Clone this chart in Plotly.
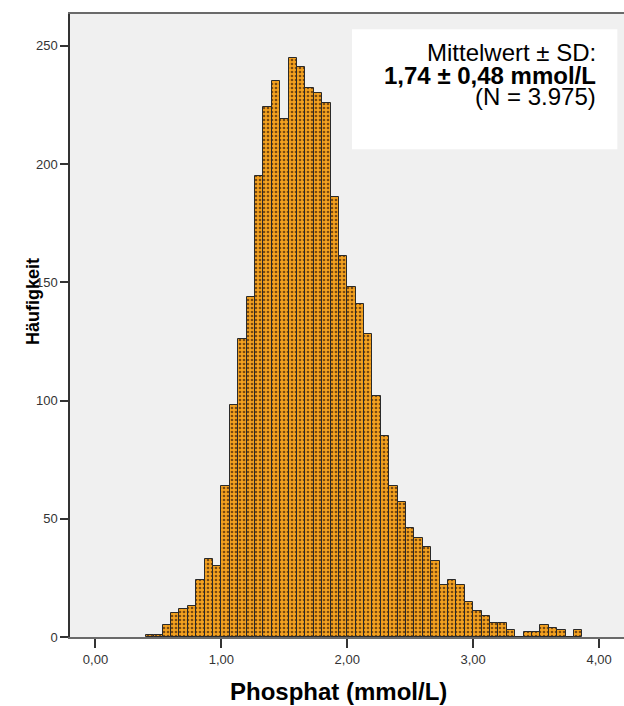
import plotly.graph_objects as go

# Histogram data: counts per bin (bin width 1/15 mmol/L, first bin starts at 0.40)
bin_start = 0.40
bin_width = 1.0 / 15.0
counts = [1, 1, 5, 10, 12, 13, 24, 33, 30, 64,
          98, 126, 144, 195, 224, 235, 219, 245, 241, 232,
          230, 226, 186, 161, 148, 141, 128, 102, 85, 64,
          57, 46, 42, 38, 32, 22, 24, 22, 15, 11,
          9, 6, 6, 3, 0, 2, 2, 5, 4, 3,
          0, 3]
x_tickvals = [0, 1, 2, 3, 4]
x_ticktext = ["0,00", "1,00", "2,00", "3,00", "4,00"]
y_tickvals = [0, 50, 100, 150, 200, 250]
y_ticktext = ["0", "50", "100", "150", "200", "250"]
stat_lines = ["Mittelwert ± SD:", "<b>1,74 ± 0,48 mmol/L</b>", "(N = 3.975)"]
x_title = "Phosphat (mmol/L)"
y_title = "Häufigkeit"

centers = [bin_start + (i + 0.5) * bin_width for i in range(len(counts))]

FONT = "Arial, 'Liberation Sans', sans-serif"

fig = go.Figure()
fig.add_trace(go.Bar(
    x=centers, y=counts, width=[bin_width] * len(counts),
    marker=dict(
        color="#f29c1c",
        line=dict(color="#2a2a2a", width=1),
        pattern=dict(shape=".", fgcolor="#7a4a10", bgcolor="#f5a21f",
                     size=4, solidity=0.35, fillmode="replace"),
    ),
    hoverinfo="x+y",
))

fig.update_layout(
    width=624, height=706,
    margin=dict(l=70, r=0, t=14, b=69),
    paper_bgcolor="white", plot_bgcolor="#f0f0f0",
    showlegend=False, bargap=0,
    font=dict(family=FONT, color="#222"),
    xaxis=dict(range=[-0.2025, 4.198], tickvals=x_tickvals, ticktext=x_ticktext,
               ticks="outside", ticklen=9, tickcolor="#333", tickwidth=1.5,
               showline=True, linecolor="#6a6a6a", linewidth=2, mirror=True,
               showgrid=False, zeroline=False,
               tickfont=dict(size=13, color="#333")),
    yaxis=dict(range=[0, 263.5], tickvals=y_tickvals, ticktext=y_ticktext,
               ticks="outside", ticklen=8, tickcolor="#333", tickwidth=1.5,
               showline=True, linecolor="#333", linewidth=1.5, mirror=False,
               showgrid=False, zeroline=False,
               tickfont=dict(size=13, color="#333")),
)

# white statistics box
fig.add_shape(type="rect", xref="paper", yref="paper",
              x0=0.509, x1=0.988, y0=0.7828, y1=0.9754,
              fillcolor="white", line=dict(width=0), layer="above")

ys = [0.939, 0.902, 0.8668]
for txt, yy in zip(stat_lines, ys):
    fig.add_annotation(text=txt, xref="paper", yref="paper", x=0.9513, y=yy,
                       xanchor="right", yanchor="middle", showarrow=False,
                       borderpad=0,
                       font=dict(size=24, color="black", family=FONT))

# axis titles
fig.add_annotation(text="<b>" + x_title + "</b>", xref="paper", yref="paper",
                   x=(338 - 70) / 554, y=(637 - 692) / 623, xanchor="center", yanchor="middle",
                   showarrow=False, font=dict(size=24, color="black", family=FONT))
fig.add_annotation(text="<b>" + y_title + "</b>", xref="paper", yref="paper",
                   x=(33 - 70) / 554, y=(637 - 302) / 623, xanchor="center", yanchor="middle",
                   textangle=-90, showarrow=False,
                   font=dict(size=18, color="black", family=FONT))

fig.write_html("out.html", config={"displayModeBar": False},
               post_script="document.body.style.margin='0';")
